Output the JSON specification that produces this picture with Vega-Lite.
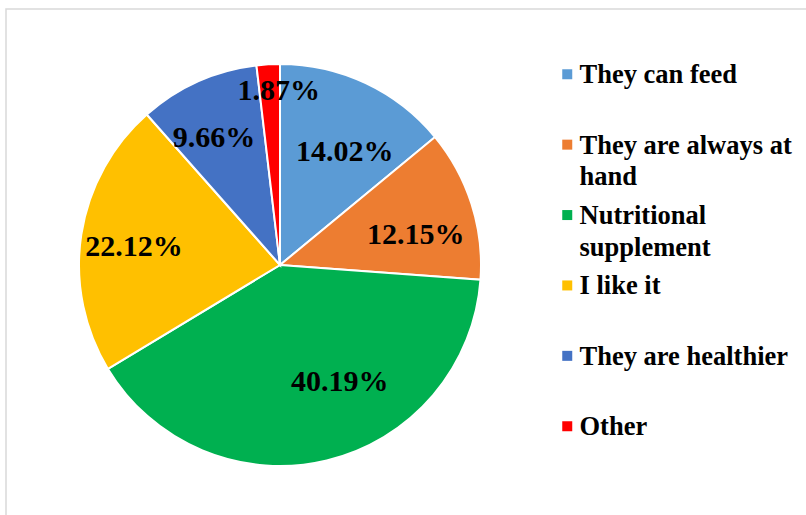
{
  "$schema": "https://vega.github.io/schema/vega-lite/v6.json",
  "width": 810,
  "height": 512,
  "autosize": {"type": "none"},
  "padding": {"left": 6, "top": 9, "right": 0, "bottom": 0},
  "background": "white",
  "view": {"stroke": "#D9D9D9", "strokeWidth": 1.5, "fill": "white"},
  "config": {"font": "Liberation Serif", "style": {"guide-label": {"lineHeight": 31.5, "dy": 9}}},
  "data": {"values": [
    {"cat": "They can feed", "value": 0.1402, "n": 1},
    {"cat": "They are always at hand", "value": 0.1215, "n": 2},
    {"cat": "Nutritional supplement", "value": 0.4019, "n": 3},
    {"cat": "I like it", "value": 0.2212, "n": 4},
    {"cat": "They are healthier", "value": 0.0966, "n": 5},
    {"cat": "Other", "value": 0.0187, "n": 6}
  ]},
  "encoding": {
    "theta": {"field": "value", "type": "quantitative", "stack": true},
    "order": {"field": "n", "type": "quantitative"}
  },
  "layer": [
    {
      "mark": {"type": "arc", "outerRadius": 201, "stroke": "white", "strokeWidth": 2, "x": {"expr": "width*274/810"}, "y": {"expr": "height/2"}},
      "encoding": {
        "color": {
          "field": "cat", "type": "nominal",
          "scale": {
            "domain": ["They can feed", "They are always at hand", "Nutritional supplement", "I like it", "They are healthier", "Other"],
            "range": ["#5B9BD5", "#ED7D31", "#00B050", "#FFC000", "#4472C4", "#FF0000"]
          },
          "legend": {
            "orient": "none", "legendX": 548, "legendY": 52, "title": null, "padding": 0,
            "symbolType": "square", "symbolSize": 100, "symbolStrokeWidth": 0,
            "labelFont": "Liberation Serif", "labelFontWeight": "bold", "labelFontSize": 26.5,
            "labelColor": "black", "labelLimit": 400, "labelOffset": -1, "rowPadding": 10.4,
            "gridAlign": "all",
            "labelBaseline": "alphabetic",
            "labelExpr": "datum.label == 'They are always at hand' ? ['They are always at', 'hand'] : datum.label == 'Nutritional supplement' ? ['Nutritional', 'supplement'] : datum.label"
          }
        }
      }
    },
    {
      "mark": {"type": "text", "radius": 130, "thetaOffset": 0.08, "fontSize": 30, "fontWeight": "bold", "font": "Liberation Serif", "color": "black", "x": {"expr": "width*274/810"}, "y": {"expr": "height/2"}},
      "encoding": {"text": {"condition": {"test": "datum.cat === 'They can feed'", "field": "value", "type": "quantitative", "format": ".2%"}, "value": ""}}
    },
    {
      "mark": {"type": "text", "radius": 139, "thetaOffset": 0.092, "fontSize": 30, "fontWeight": "bold", "font": "Liberation Serif", "color": "black", "x": {"expr": "width*274/810"}, "y": {"expr": "height/2"}},
      "encoding": {"text": {"condition": {"test": "datum.cat === 'They are always at hand'", "field": "value", "type": "quantitative", "format": ".2%"}, "value": ""}}
    },
    {
      "mark": {"type": "text", "radius": 131, "thetaOffset": -0.239, "fontSize": 30, "fontWeight": "bold", "font": "Liberation Serif", "color": "black", "x": {"expr": "width*274/810"}, "y": {"expr": "height/2"}},
      "encoding": {"text": {"condition": {"test": "datum.cat === 'Nutritional supplement'", "field": "value", "type": "quantitative", "format": ".2%"}, "value": ""}}
    },
    {
      "mark": {"type": "text", "radius": 147, "thetaOffset": -0.03, "fontSize": 30, "fontWeight": "bold", "font": "Liberation Serif", "color": "black", "x": {"expr": "width*274/810"}, "y": {"expr": "height/2"}},
      "encoding": {"text": {"condition": {"test": "datum.cat === 'I like it'", "field": "value", "type": "quantitative", "format": ".2%"}, "value": ""}}
    },
    {
      "mark": {"type": "text", "radius": 143, "thetaOffset": -0.059, "fontSize": 30, "fontWeight": "bold", "font": "Liberation Serif", "color": "black", "x": {"expr": "width*274/810"}, "y": {"expr": "height/2"}},
      "encoding": {"text": {"condition": {"test": "datum.cat === 'They are healthier'", "field": "value", "type": "quantitative", "format": ".2%"}, "value": ""}}
    },
    {
      "mark": {"type": "text", "radius": 174, "thetaOffset": 0.052, "fontSize": 30, "fontWeight": "bold", "font": "Liberation Serif", "color": "black", "x": {"expr": "width*274/810"}, "y": {"expr": "height/2"}},
      "encoding": {"text": {"condition": {"test": "datum.cat === 'Other'", "field": "value", "type": "quantitative", "format": ".2%"}, "value": ""}}
    }
  ]
}
